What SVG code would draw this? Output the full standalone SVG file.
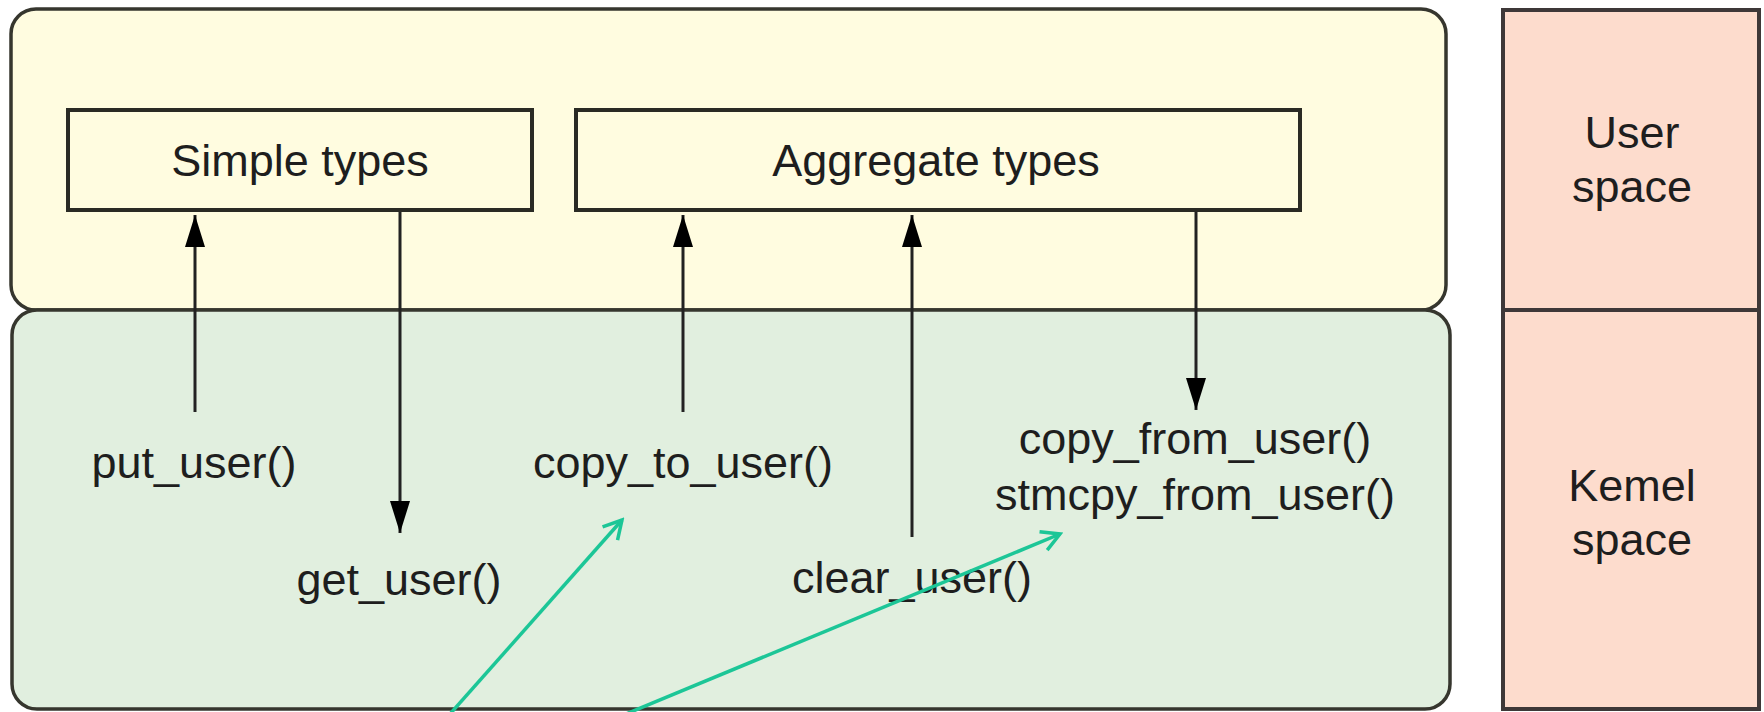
<svg xmlns="http://www.w3.org/2000/svg" width="1764" height="712" viewBox="0 0 1764 712">
<style>
.t{font-family:"Liberation Sans",Arial,sans-serif;font-size:45px;fill:#1e1e1e;text-anchor:middle}
.region{stroke:#36362e;stroke-width:3.5}
.box{fill:#fffce0;stroke:#2a2a24;stroke-width:4}
.conn{stroke:#222;stroke-width:3;fill:none}
.teal{stroke:#1cc697;stroke-width:3.5;fill:none}
</style>
<defs>
<marker id="ah" markerUnits="userSpaceOnUse" markerWidth="32" markerHeight="20" refX="32" refY="10" orient="auto">
<path d="M0,0 L32,10 L0,20 z" fill="#000"/>
</marker>
<marker id="oh" markerUnits="userSpaceOnUse" markerWidth="22" markerHeight="24" refX="19" refY="12" orient="auto">
<path d="M1,2 L19,12 L1,22" fill="none" stroke="#1cc697" stroke-width="3.5"/>
</marker>
</defs>
<rect width="1764" height="712" fill="#ffffff"/>
<g id="user-region">
<rect class="region" x="11" y="9" width="1435" height="301" rx="25" ry="25" fill="#fffce0"/>
</g>
<g id="kernel-region">
<rect class="region" x="12" y="310" width="1438" height="399" rx="25" ry="25" fill="#e1efdf"/>
</g>
<g id="space-panel">
<rect x="1503" y="10" width="256" height="699" fill="#fddccd" stroke="#3e3838" stroke-width="4"/>
<line x1="1503" y1="310" x2="1759" y2="310" stroke="#3e3838" stroke-width="4"/>
<text class="t" x="1632" y="148">User</text>
<text class="t" x="1632" y="202">space</text>
<text class="t" x="1632" y="501">Kemel</text>
<text class="t" x="1632" y="555">space</text>
</g>
<g id="simple-types">
<rect class="box" x="68" y="110" width="464" height="100"/>
<text class="t" x="300" y="176">Simple types</text>
</g>
<g id="aggregate-types">
<rect class="box" x="576" y="110" width="724" height="100"/>
<text class="t" x="936" y="176">Aggregate types</text>
</g>
<g id="put-user"><text class="t" x="194" y="478">put_user()</text></g>
<g id="get-user"><text class="t" x="399" y="595">get_user()</text></g>
<g id="copy-to-user"><text class="t" x="683" y="478">copy_to_user()</text></g>
<g id="clear-user"><text class="t" x="912" y="593">clear_user()</text></g>
<g id="copy-from-user">
<text class="t" x="1195" y="454">copy_from_user()</text>
<text class="t" x="1195" y="510">stmcpy_from_user()</text>
</g>
<g id="connectors">
<line class="conn" x1="195" y1="412" x2="195" y2="215" marker-end="url(#ah)"/>
<line class="conn" x1="400" y1="212" x2="400" y2="533" marker-end="url(#ah)"/>
<line class="conn" x1="683" y1="412" x2="683" y2="215" marker-end="url(#ah)"/>
<line class="conn" x1="912" y1="537" x2="912" y2="215" marker-end="url(#ah)"/>
<line class="conn" x1="1196" y1="212" x2="1196" y2="410" marker-end="url(#ah)"/>
<line class="teal" x1="450" y1="714" x2="622" y2="520" marker-end="url(#oh)"/>
<line class="teal" x1="626" y1="714" x2="1060" y2="534" marker-end="url(#oh)"/>
</g>
</svg>
